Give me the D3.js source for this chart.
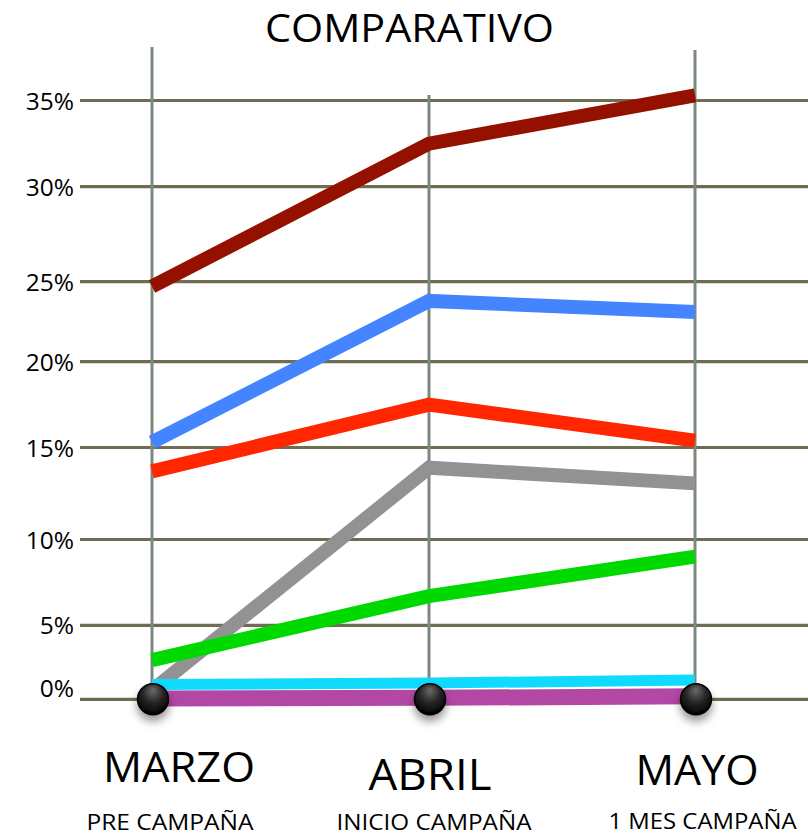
<!DOCTYPE html>
<html>
<head>
<meta charset="utf-8">
<script src="https://cdn.jsdelivr.net/npm/d3@7"></script>
<style>
  html, body { margin: 0; padding: 0; background: #fff; }
  svg { display: block; }
  text { font-family: "Open Sans", "Noto Sans", sans-serif; fill: #000; }
</style>
</head>
<body>
<svg id="chart" width="808" height="836"></svg>
<script>
// ---------- DATA ----------
const title = "COMPARATIVO";
const months = ["MARZO", "ABRIL", "MAYO"];
const phases = ["PRE CAMPAÑA", "INICIO CAMPAÑA", "1 MES CAMPAÑA"];
const yTicks = [0, 5, 10, 15, 20, 25, 30, 35];
const yTickLabels = ["0%", "5%", "10%", "15%", "20%", "25%", "30%", "35%"];

const serieDarkRed = [24.7, 32.5, 35.3];
const serieBlue    = [15.3, 23.8, 23.1];
const serieRed     = [13.7, 17.5, 15.4];
const serieGray    = [0.6, 13.9, 13.05];
const serieGreen   = [2.65, 6.7, 9.0];
const seriePurple  = [0.05, 0.1, 0.2];
const serieCyan    = [1.0, 1.1, 1.3];

// ---------- LAYOUT / STYLE ----------
const seriesDraw = [
  { values: serieDarkRed, color: "#941100", width: 14 },
  { values: serieBlue,    color: "#4485ff", width: 14 },
  { values: serieRed,     color: "#ff2600", width: 14 },
  { values: serieGray,    color: "#929292", width: 14 },
  { values: serieGreen,   color: "#00d900", width: 14 },
  { values: seriePurple,  color: "#b247a4", width: 16 },
  { values: serieCyan,    color: "#10dbff", width: 11 }
];

const svg = d3.select("#chart");

// hand-drawn chart: uneven spacing between gridlines, reproduced by a piecewise scale
const y = d3.scaleLinear()
  .domain(yTicks)
  .range([699.3, 625.3, 539.5, 447.5, 361.7, 281.7, 186.7, 100.5]);
const x = d3.scaleOrdinal()
  .domain(months)
  .range([152, 429, 695]);

// defs
const defs = svg.append("defs");
const rg = defs.append("radialGradient").attr("id", "dotGrad")
  .attr("cx", "50%").attr("cy", "35%").attr("r", "60%").attr("fx", "50%").attr("fy", "20%");
rg.append("stop").attr("offset", "0%").attr("stop-color", "#6b6b6b");
rg.append("stop").attr("offset", "55%").attr("stop-color", "#262626");
rg.append("stop").attr("offset", "85%").attr("stop-color", "#111");
rg.append("stop").attr("offset", "100%").attr("stop-color", "#000");
const sh = defs.append("filter").attr("id", "shadow")
  .attr("x", "-50%").attr("y", "-50%").attr("width", "200%").attr("height", "220%");
sh.append("feDropShadow").attr("dx", 0).attr("dy", 6).attr("stdDeviation", 4)
  .attr("flood-color", "#000").attr("flood-opacity", 0.4);

// title
svg.append("text")
  .attr("x", 409.5).attr("y", 41.5)
  .attr("text-anchor", "middle")
  .attr("font-size", 38.5)
  .attr("textLength", 289).attr("lengthAdjust", "spacingAndGlyphs")
  .text(title);

// horizontal gridlines
svg.append("g").selectAll("line").data(yTicks).join("line")
  .attr("x1", 80).attr("x2", 808)
  .attr("y1", d => y(d)).attr("y2", d => y(d))
  .attr("stroke", "#6f6c51").attr("stroke-width", 3.2);

// y labels
const labelNudge = { 0: -11 };
svg.append("g").selectAll("text").data(yTicks).join("text")
  .attr("x", 74)
  .attr("y", d => y(d) + 9 + (labelNudge[d] || 0))
  .attr("text-anchor", "end")
  .attr("font-size", 24.5)
  .attr("fill", "#111")
  .text((d, i) => yTickLabels[i]);

// vertical lines
const vTops = [47, 95, 50];
svg.append("g").selectAll("line").data(months).join("line")
  .attr("x1", d => x(d)).attr("x2", d => x(d))
  .attr("y1", (d, i) => vTops[i]).attr("y2", y(0))
  .attr("stroke", "#7d8880").attr("stroke-width", 3);

// series lines
const line = d3.line()
  .x((d, i) => x(months[i]))
  .y(d => y(d));
svg.append("g").selectAll("path").data(seriesDraw).join("path")
  .attr("d", s => line(s.values))
  .attr("fill", "none")
  .attr("stroke", s => s.color)
  .attr("stroke-width", s => s.width)
  .attr("stroke-linejoin", "miter")
  .attr("stroke-linecap", "butt");

// dots
svg.append("g").selectAll("circle").data(months).join("circle")
  .attr("cx", d => x(d) + 1)
  .attr("cy", y(0))
  .attr("r", 15.5)
  .attr("fill", "url(#dotGrad)")
  .attr("stroke", "#000")
  .attr("stroke-width", 1.5)
  .attr("filter", "url(#shadow)");

// month labels
const monthLayout = [
  { cx: 179, base: 782, w: 152, fs: 42 },
  { cx: 430, base: 790, w: 123, fs: 44 },
  { cx: 697, base: 785, w: 123, fs: 42 }
];
svg.append("g").selectAll("text").data(months).join("text")
  .attr("x", (d, i) => monthLayout[i].cx)
  .attr("y", (d, i) => monthLayout[i].base)
  .attr("text-anchor", "middle")
  .attr("font-size", (d, i) => monthLayout[i].fs)
  .attr("textLength", (d, i) => monthLayout[i].w)
  .attr("lengthAdjust", "spacingAndGlyphs")
  .text(d => d);

const phaseLayout = [
  { cx: 170, base: 829.5, w: 167, fs: 22 },
  { cx: 434, base: 829.5, w: 195, fs: 22 },
  { cx: 702.5, base: 829, w: 188, fs: 22 }
];
svg.append("g").selectAll("text").data(phases).join("text")
  .attr("x", (d, i) => phaseLayout[i].cx)
  .attr("y", (d, i) => phaseLayout[i].base)
  .attr("text-anchor", "middle")
  .attr("font-size", (d, i) => phaseLayout[i].fs)
  .attr("textLength", (d, i) => phaseLayout[i].w)
  .attr("lengthAdjust", "spacingAndGlyphs")
  .text(d => d);
</script>
</body>
</html>
